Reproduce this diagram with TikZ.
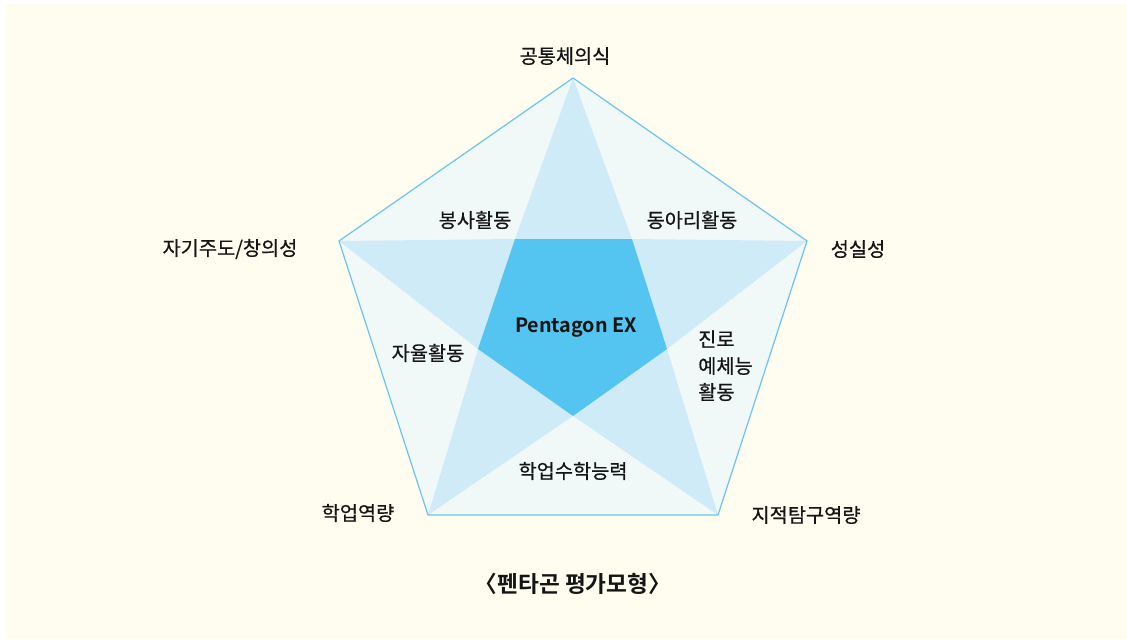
\documentclass[tikz,border=0pt]{standalone}
\usepackage{fontspec}
\setmainfont{Noto Sans CJK KR}
\newfontfamily\kmed[FakeBold=0.5]{Noto Sans CJK KR}
\newfontfamily\kbold{Noto Sans CJK KR Bold}
\definecolor{bgcream}{HTML}{FFFDF0}
\definecolor{palefill}{HTML}{F1F8F8}
\definecolor{starfill}{HTML}{D0EBF8}
\definecolor{corefill}{HTML}{54C5F0}
\definecolor{edgeline}{HTML}{6CC4EC}
\definecolor{txt}{HTML}{151515}
\tikzset{
  lbl/.style={font=\kmed\fontsize{14.8}{18}\selectfont, text=txt, inner sep=0pt},
}
\begin{document}
\begin{tikzpicture}[x=0.75pt,y=-0.75pt]
\useasboundingbox (0,0) rectangle (1127,639);
\fill[white] (0,0) rectangle (1127,639);
\fill[bgcream] (6,4) rectangle (1127,639);
% outer vertices
\coordinate (A) at (573,78);
\coordinate (B) at (807,241);
\coordinate (C) at (718,515);
\coordinate (D) at (428,515);
\coordinate (E) at (339,241);
% inner vertices
\coordinate (P1) at (515,239);
\coordinate (P2) at (632,239);
\coordinate (P3) at (667,349);
\coordinate (P4) at (573,416);
\coordinate (P5) at (478,349);
% shapes
\fill[palefill] (A) -- (B) -- (C) -- (D) -- (E) -- cycle;
\fill[starfill] (A) -- (P2) -- (B) -- (P3) -- (C) -- (P4) -- (D) -- (P5) -- (E) -- (P1) -- cycle;
\fill[corefill] (P1) -- (P2) -- (P3) -- (P4) -- (P5) -- cycle;
\draw[edgeline, line width=0.9pt, line join=miter] (A) -- (B) -- (C) -- (D) -- (E) -- cycle;
% outer labels
\node[lbl] (la) at (565,56) {공통체의식};
\node[lbl] (lb) at (858,249) {성실성};
\node[lbl] (lc) at (806,515) {지적탐구역량};
\node[lbl] (ld) at (358,513) {학업역량};
\node[lbl] (le) at (230,249) {자기주도/창의성};
% inner labels
\node[lbl] (i1) at (475,220) {봉사활동};
\node[lbl] (i2) at (692,220) {동아리활동};
\node[lbl] (i3) at (428,353) {자율활동};
\node[lbl] (i4) at (573,471) {학업수학능력};
\node[lbl, anchor=west] (i5a) at (698,339) {진로};
\node[lbl, anchor=west] (i5b) at (698,366) {예체능};
\node[lbl, anchor=west] (i5c) at (698,392) {활동};
\node[lbl, font=\kbold\fontsize{14.8}{18}\selectfont] (core) at (576,328) {Pentagon EX};
% title
\node[lbl, font=\kbold\fontsize{17}{20}\selectfont] (title) at (573,584) {〈펜타곤 평가모형〉};
\end{tikzpicture}
\end{document}
